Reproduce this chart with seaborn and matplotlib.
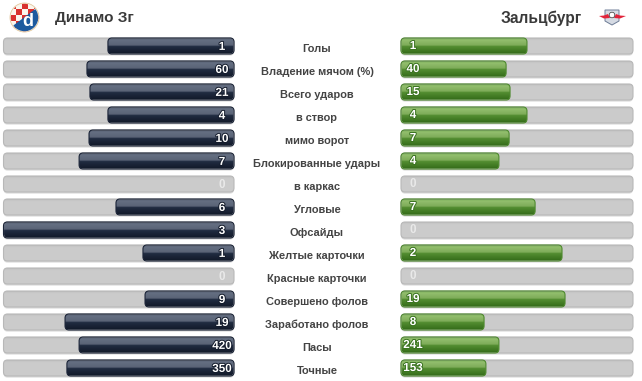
import numpy as np
import pandas as pd
import seaborn as sns
import matplotlib.pyplot as plt
import matplotlib.patheffects as pe
from matplotlib.patches import Circle, FancyBboxPatch, Polygon, Rectangle
from matplotlib.colors import to_rgb

# Data
home_team = 'Динамо Зг'
away_team = 'Зальцбург'
stats = ['Голы', 'Владение мячом (%)', 'Всего ударов', 'в створ', 'мимо ворот',
         'Блокированные удары', 'в каркас', 'Угловые', 'Офсайды', 'Желтые карточки',
         'Красные карточки', 'Совершено фолов', 'Заработано фолов', 'Пасы', 'Точные']
home_values = [1, 60, 21, 4, 10, 7, 0, 6, 3, 1, 0, 9, 19, 420, 350]
away_values = [1, 40, 15, 4, 7, 4, 0, 7, 0, 2, 0, 19, 8, 241, 153]
# bar length in percent of the track
home_share = [54.7, 63.8, 62.5, 54.7, 62.9, 67.2, 0, 51.2, 100, 39.5, 0, 38.6, 73.3, 67.2, 72.5]
away_share = [54.3, 45.3, 47.0, 54.3, 46.6, 42.2, 0, 57.8, 0, 69.4, 0, 70.7, 35.8, 42.2, 36.6]
track_share = [100] * len(stats)

W, H = 642, 381

sns.set_theme(style="white")
plt.rcParams['font.family'] = ['Liberation Sans', 'DejaVu Sans']

df = pd.DataFrame({'stat': stats, 'home': home_share, 'away': away_share, 'track': track_share})

fig = plt.figure(figsize=(W / 100, H / 100), dpi=100)


def px_axes(x0, x1, y0, y1):
    return fig.add_axes([x0 / W, 1 - y1 / H, (x1 - x0) / W, (y1 - y0) / H])


def ramp(stops, n=32):
    # vertical colour ramp, stops are (position, colour)
    pos = [s[0] for s in stops]
    rgb = np.array([to_rgb(s[1]) for s in stops])
    t = np.linspace(0, 1, n)
    return np.stack([np.interp(t, pos, rgb[:, i]) for i in range(3)], axis=1)[:, None, :]


TRACK = ramp([(0, '#bfbfbf'), (0.15, '#cccccc'), (1, '#cbcbcb')])
NAVY = ramp([(0, '#3b4559'), (0.08, '#667083'), (0.46, '#5a6376'), (0.5, '#222d43'),
             (0.95, '#131b2b'), (1, '#0f1623')])
GREEN = ramp([(0, '#6fa84a'), (0.1, '#93bf6f'), (0.46, '#7dab58'), (0.5, '#558f33'),
              (0.95, '#376f1b'), (1, '#2f6415')])


def round_bars(ax, col, gradient, edge, shadow=False):
    # seaborn gives the geometry, each bar is then redrawn with round corners and a gradient
    before = list(ax.patches)
    sns.barplot(data=df, x=col, y='stat', orient='h', ax=ax, width=16 / 23, color=edge)
    new = [p for p in ax.patches if p not in before]
    xpp = 100 / ax.get_window_extent().width
    ypp = 15 / ax.get_window_extent().height
    for p in new:
        p.set_visible(False)
        w = p.get_width()
        if w <= 0:
            continue
        x0, y0, h = p.get_x(), p.get_y(), p.get_height()
        box = dict(boxstyle=f'round,pad=0,rounding_size={4 * xpp}', mutation_aspect=ypp / xpp,
                   clip_on=False)
        if shadow:
            ax.add_patch(FancyBboxPatch((x0, y0 + 1.6 * ypp), w, h, fc='#000000', ec='none',
                                        alpha=0.14, zorder=1, **box))
        im = ax.imshow(gradient, extent=(x0, x0 + w, y0 + h, y0), aspect='auto',
                       interpolation='bilinear', zorder=2)
        clip = FancyBboxPatch((x0, y0), w, h, fc='none', ec=edge, lw=0.8, zorder=3, **box)
        ax.add_patch(clip)
        im.set_clip_path(clip)


def setup(ax, xlim):
    ax.set_xlim(*xlim)
    ax.set_ylim(len(stats) - 0.5, -0.5)
    ax.axis('off')
    ax.patch.set_alpha(0)


ax_home = px_axes(3.5, 234, 34.5, 379.5)
ax_away = px_axes(401, 633, 34.5, 379.5)
setup(ax_home, (100, 0))
setup(ax_away, (0, 100))

round_bars(ax_home, 'track', TRACK, '#b8b8b8', shadow=True)
round_bars(ax_home, 'home', NAVY, '#1b2438')
round_bars(ax_away, 'track', TRACK, '#b8b8b8', shadow=True)
round_bars(ax_away, 'away', GREEN, '#4f8a2f')
setup(ax_home, (100, 0))
setup(ax_away, (0, 100))

# Value labels and the names in the middle
trans_home = ax_home.get_yaxis_transform()
trans_away = ax_away.get_yaxis_transform()
for i, stat in enumerate(stats):
    for ax, trans, xpos, val, share, stroke, dy in [
            (ax_home, trans_home, (222 - 3.5) / 230.5, home_values[i], home_share[i], '#141c2c', 0.04),
            (ax_away, trans_away, (413 - 401) / 232, away_values[i], away_share[i], '#3a7320', 0.0)]:
        on_bar = share > 0
        ax.text(xpos, i + dy, str(val), transform=trans, ha='center', va='center',
                fontsize=8.4, fontweight='bold', color='white' if on_bar else '#e9e9e9',
                zorder=6,
                path_effects=[pe.withStroke(linewidth=1.4, foreground=stroke)] if on_bar else None)
    ax_home.text((317 - 3.5) / 230.5, i + 0.13, stat, transform=trans_home, ha='center', va='center',
                 fontsize=7.95, fontweight='bold', color='#444444', clip_on=False)

# Header with the crests
ax_top = px_axes(0, W, 0, H)
ax_top.set_xlim(0, W)
ax_top.set_ylim(H, 0)
ax_top.axis('off')
ax_top.patch.set_alpha(0)

ax_top.text(55, 18, home_team, ha='left', va='center', fontsize=11, fontweight='bold', color='#3a3a3a')
ax_top.text(582, 18, away_team, ha='right', va='center', fontsize=11.2, fontweight='bold', color='#3a3a3a')

# Dinamo crest
cx, cy, r = 24.5, 17.5, 14.5
ring = Circle((cx, cy), r, fc='#f7efe0', ec='#e3c9a0', lw=0.6)
ax_top.add_patch(ring)
inner = Circle((cx, cy), r - 0.8, fc='none', ec='none')
ax_top.add_patch(inner)
for col in range(5):
    for row in range(5):
        sq = Rectangle((10 + col * 6, 3 + row * 6), 6, 6, lw=0,
                       fc='#d9312e' if (col + row) % 2 == 0 else '#fbf6ee')
        ax_top.add_patch(sq)
        sq.set_clip_path(inner)
blue = Polygon([(10, 28), (38, 7), (42, 7), (42, 36), (10, 36)], fc='#1d5a9e', ec='none')
ax_top.add_patch(blue)
blue.set_clip_path(inner)
ax_top.text(27.5, 21.5, 'd', ha='center', va='center', fontsize=13, fontweight='bold', color='white')

# Salzburg crest
shield = Polygon([(605, 10), (619, 10), (619, 21), (612, 25), (605, 21)], fc='#d5dae3', ec='#6d7c96', lw=0.7)
ax_top.add_patch(shield)
ax_top.add_patch(Polygon([(599, 16), (604, 15.5), (608, 14), (610, 18), (604, 18.5)], fc='#e2233a', ec='none'))
ax_top.add_patch(Polygon([(626, 16), (620, 15.5), (616, 14), (614, 18), (620, 18.5)], fc='#e2233a', ec='none'))
ax_top.add_patch(Circle((612, 15), 2.8, fc='white', ec='#333333', lw=0.5))

plt.savefig('out.png', dpi=100, facecolor='white')
